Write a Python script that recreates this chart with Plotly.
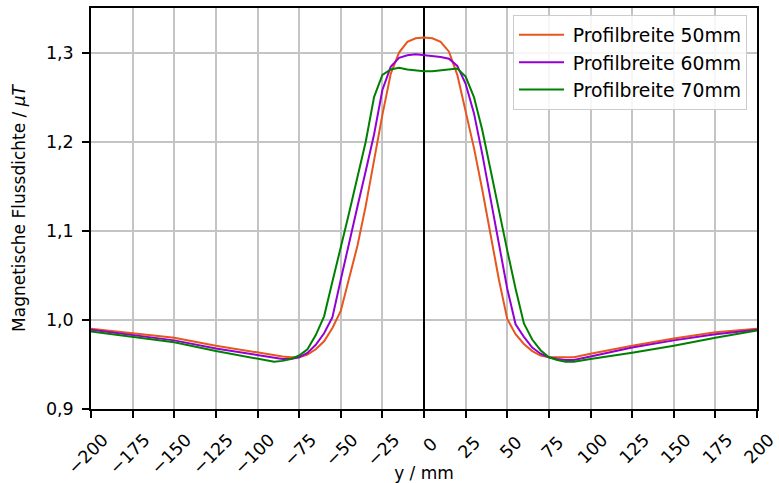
import plotly.graph_objects as go

# Measurement positions across the profile (mm)
y_mm = [-200, -175, -150, -125, -100, -90, -85, -80, -75, -70, -65, -60, -55, -50,
        -45, -40, -35, -30, -25, -20, -15, -10, -5, 0, 5, 10, 15, 20, 25, 30, 35,
        40, 45, 50, 55, 60, 65, 70, 75, 80, 85, 90, 100, 125, 150, 175, 200]

# Magnetic flux density (µT) for each profile width
b_50mm = [0.990, 0.985, 0.980, 0.971, 0.963, 0.960, 0.959, 0.958, 0.958, 0.961, 0.967,
          0.976, 0.991, 1.010, 1.046, 1.083, 1.128, 1.180, 1.230, 1.276, 1.300, 1.312,
          1.316, 1.317, 1.316, 1.312, 1.301, 1.275, 1.235, 1.193, 1.146, 1.097, 1.045,
          1.001, 0.984, 0.973, 0.965, 0.960, 0.958, 0.958, 0.958, 0.958, 0.962, 0.971,
          0.979, 0.986, 0.990]
b_60mm = [0.989, 0.983, 0.977, 0.968, 0.960, 0.957, 0.956, 0.956, 0.958, 0.963, 0.972,
          0.985, 1.003, 1.045, 1.087, 1.127, 1.167, 1.208, 1.258, 1.284, 1.294, 1.297,
          1.298, 1.297, 1.296, 1.295, 1.293, 1.285, 1.265, 1.232, 1.186, 1.135, 1.086,
          1.035, 0.995, 0.981, 0.969, 0.962, 0.958, 0.956, 0.955, 0.955, 0.959, 0.969,
          0.977, 0.984, 0.989]
b_70mm = [0.987, 0.981, 0.975, 0.965, 0.957, 0.953, 0.954, 0.956, 0.960, 0.967, 0.983,
          1.004, 1.043, 1.080, 1.120, 1.160, 1.200, 1.250, 1.275, 1.281, 1.283, 1.281,
          1.280, 1.279, 1.279, 1.280, 1.281, 1.282, 1.273, 1.250, 1.213, 1.167, 1.123,
          1.078, 1.035, 0.996, 0.978, 0.966, 0.958, 0.955, 0.953, 0.953, 0.956, 0.963,
          0.971, 0.980, 0.988]

series_names = ["Profilbreite 50mm", "Profilbreite 60mm", "Profilbreite 70mm"]
series_colors = ["#e6561e", "#9400d3", "#008000"]

x_ticks = list(range(-200, 201, 25))
y_ticks = [0.9, 1.0, 1.1, 1.2, 1.3]
reference_level = 1.0

FONT = "DejaVu Sans"
TICK_SIZE = 17.5


def rotated_label(v):
    """Tick label with a little trailing space so that short rotated
    labels sit closer to the middle of their tick."""
    s = str(v).replace("-", "\u2212")
    pad = {4: "", 3: "", 2: "\u2009", 1: "\u00a0"}[len(s)]
    return s + pad


fig = go.Figure()
for name, color, vals in zip(series_names, series_colors, [b_50mm, b_60mm, b_70mm]):
    fig.add_trace(go.Scatter(x=y_mm, y=vals, mode="lines", name="\u2009" + name,
                             line=dict(color=color, width=2)))

fig.add_hline(y=reference_level, line=dict(color="black", width=2), layer="below")

fig.update_layout(
    width=779, height=483,
    margin=dict(l=91, r=22, t=8, b=74),
    paper_bgcolor="white", plot_bgcolor="white",
    separators=",.",
    font=dict(family=FONT, size=TICK_SIZE, color="black"),
    showlegend=True,
    legend=dict(x=0.985, y=0.9825, xanchor="right", yanchor="top",
                bgcolor="rgba(255,255,255,0.85)", bordercolor="#cccccc", borderwidth=1,
                font=dict(family=FONT, size=18.8), itemwidth=45, tracegroupgap=0),
)

fig.update_xaxes(
    automargin=False,
    range=[-200, 200], tickmode="array", tickvals=x_ticks,
    ticktext=[rotated_label(v) for v in x_ticks],
    tickangle=-45, ticklabelshift=12, ticklabelstandoff=5,
    ticklabeloverflow="allow",
    ticks="outside", ticklen=7, tickwidth=1.5, tickcolor="black",
    showline=True, linecolor="black", linewidth=1.5, mirror=True,
    showgrid=True, gridcolor="#c4c4c4", gridwidth=1.5,
    zeroline=True, zerolinecolor="black", zerolinewidth=2,
    title=dict(text="y / mm", font=dict(size=17), standoff=2),
    tickfont=dict(size=TICK_SIZE),
)
fig.update_yaxes(
    automargin=False,
    range=[0.9, 1.35], tickmode="array", tickvals=y_ticks, tickformat=".1f",
    ticklabelstandoff=5,
    ticks="outside", ticklen=7, tickwidth=1.5, tickcolor="black",
    showline=True, linecolor="black", linewidth=1.5, mirror=True,
    showgrid=True, gridcolor="#c4c4c4", gridwidth=1.5,
    zeroline=False,
    title=dict(text="Magnetische Flussdichte / <i>μT</i>", font=dict(size=17), standoff=16),
    tickfont=dict(size=TICK_SIZE),
)

fig.write_html("out.html")
